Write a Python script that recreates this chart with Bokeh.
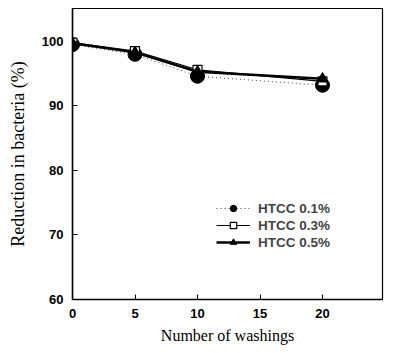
from bokeh.plotting import figure
from bokeh.models import Legend, LegendItem, Range1d, FixedTicker
from bokeh.embed import file_html
from bokeh.resources import INLINE

washings = [0, 5, 10, 20]
htcc_01 = [99.5, 98.0, 94.6, 93.2]
htcc_03 = [99.8, 98.5, 95.6, 93.8]
htcc_05 = [99.7, 98.3, 95.3, 94.2]
x_ticks = [0, 5, 10, 15, 20, 25]
y_ticks = [60, 70, 80, 90, 100]

p = figure(width=395, height=353, output_backend="svg", toolbar_location=None,
           x_range=Range1d(0, 24.8), y_range=Range1d(60, 105.1),
           min_border_left=72, min_border_right=13, min_border_top=8, min_border_bottom=54)
p.grid.visible = False
p.outline_line_color = "black"
p.outline_line_width = 1.2

l1 = p.line(washings, htcc_01, line_color="#444444", line_width=1, line_dash="1 3")
m1 = p.scatter(washings, htcc_01, marker="circle", size=14, fill_color="black", line_color="black")
l2 = p.line(washings, htcc_03, line_color="black", line_width=1.2)
m2 = p.scatter(washings, htcc_03, marker="square", size=9, fill_color="white", line_color="black", line_width=1.2)
l3 = p.line(washings, htcc_05, line_color="black", line_width=2.5)
m3 = p.scatter(washings, htcc_05, marker="triangle", size=11, fill_color="black", line_color="black")

for ax in (p.xaxis[0], p.yaxis[0]):
    ax.major_tick_in = 5
    ax.major_tick_out = 0
    ax.minor_tick_line_color = None
    ax.axis_line_width = 1.5
    ax.major_label_text_font = "Liberation Sans"
    ax.major_label_text_font_size = "13px"
    ax.major_label_text_font_style = "bold"
    ax.major_label_text_color = "black"
    ax.axis_label_text_font = "Liberation Serif"
    ax.axis_label_text_font_size = "16px"
    ax.axis_label_text_font_style = "normal"
    ax.axis_label_text_color = "black"

p.xaxis[0].ticker = FixedTicker(ticks=x_ticks)
p.yaxis[0].ticker = FixedTicker(ticks=y_ticks)
p.xaxis[0].axis_label = "Number of washings"
p.yaxis[0].axis_label = "Reduction in bacteria (%)"
p.yaxis[0].axis_label_text_font_size = "18px"
p.xaxis[0].major_label_standoff = 9
p.xaxis[0].axis_label_standoff = 6
p.yaxis[0].major_label_standoff = 9
p.yaxis[0].axis_label_standoff = 11

legend = Legend(items=[
    LegendItem(label="HTCC 0.1%", renderers=[l1, m1]),
    LegendItem(label="HTCC 0.3%", renderers=[l2, m2]),
    LegendItem(label="HTCC 0.5%", renderers=[l3, m3]),
], location=(144, 49), border_line_color=None, background_fill_alpha=0,
   padding=0, margin=0, spacing=1, glyph_width=34, glyph_height=16, label_height=16,
   label_standoff=8, label_text_font="Liberation Sans", label_text_font_size="13.5px",
   label_text_font_style="bold")
p.add_layout(legend)

open("out.html", "w").write(file_html(p, INLINE))
